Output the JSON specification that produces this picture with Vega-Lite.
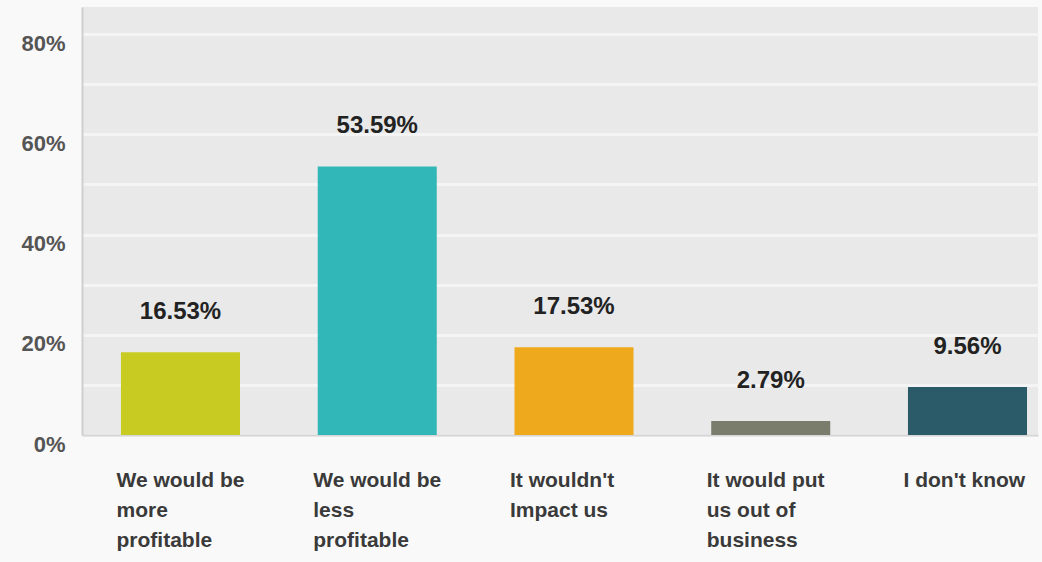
{
  "$schema": "https://vega.github.io/schema/vega-lite/v6.json",
  "width": 956,
  "height": 428,
  "autosize": {"type": "none"},
  "padding": {"left": 82, "top": 7, "right": 4, "bottom": 127},
  "background": "#f9f9f9",
  "config": {
    "view": {"fill": "#e9e9e9", "stroke": null},
    "font": "Liberation Sans"
  },
  "data": {
    "values": [
      {"answer": "We would be|more|profitable", "pct": 16.53, "label": "16.53%"},
      {"answer": "We would be|less|profitable", "pct": 53.59, "label": "53.59%"},
      {"answer": "It wouldn't|Impact us", "pct": 17.53, "label": "17.53%"},
      {"answer": "It would put|us out of|business", "pct": 2.79, "label": "2.79%"},
      {"answer": "I don't know", "pct": 9.56, "label": "9.56%"}
    ]
  },
  "encoding": {
    "x": {
      "field": "answer",
      "type": "nominal",
      "sort": null,
      "scale": {"paddingInner": 0.395, "paddingOuter": 0.127, "align": 0.78},
      "axis": {
        "title": null,
        "labelAngle": 0,
        "labelAlign": "left",
        "labelBaseline": "top",
        "labelOffset": -64,
        "labelPadding": 34,
        "labelExpr": "split(datum.value, '|')",
        "labelFontSize": 21,
        "labelFontWeight": "bold",
        "labelColor": "#3a3a3a",
        "labelLineHeight": 30,
        "labelLimit": 0,
        "ticks": false,
        "domainColor": "#d6d6d6",
        "domainWidth": 2
      }
    },
    "y": {
      "field": "pct",
      "type": "quantitative",
      "scale": {"domain": [0, 85.4], "nice": false},
      "axis": {
        "title": null,
        "values": [0, 10, 20, 30, 40, 50, 60, 70, 80],
        "labelExpr": "datum.value % 20 == 0 ? datum.value + '%' : ''",
        "gridColor": "#f4f4f4",
        "gridWidth": 3,
        "ticks": false,
        "labelPadding": 17,
        "labelOffset": 9,
        "labelFontSize": 22,
        "labelFontWeight": "bold",
        "labelColor": "#555555",
        "domainColor": "#cfcfcf",
        "domainWidth": 2
      }
    }
  },
  "layer": [
    {
      "mark": {"type": "bar"},
      "encoding": {
        "color": {
          "field": "answer",
          "type": "nominal",
          "legend": null,
          "scale": {
            "domain": ["We would be|more|profitable", "We would be|less|profitable", "It wouldn't|Impact us", "It would put|us out of|business", "I don't know"],
            "range": ["#c8cc22", "#31b7b7", "#efa91c", "#7b7d6c", "#2b5b68"]
          }
        }
      }
    },
    {
      "mark": {"type": "text", "dy": -33, "baseline": "alphabetic", "fontSize": 24, "fontWeight": "bold", "color": "#222222"},
      "encoding": {"text": {"field": "label"}}
    }
  ]
}
